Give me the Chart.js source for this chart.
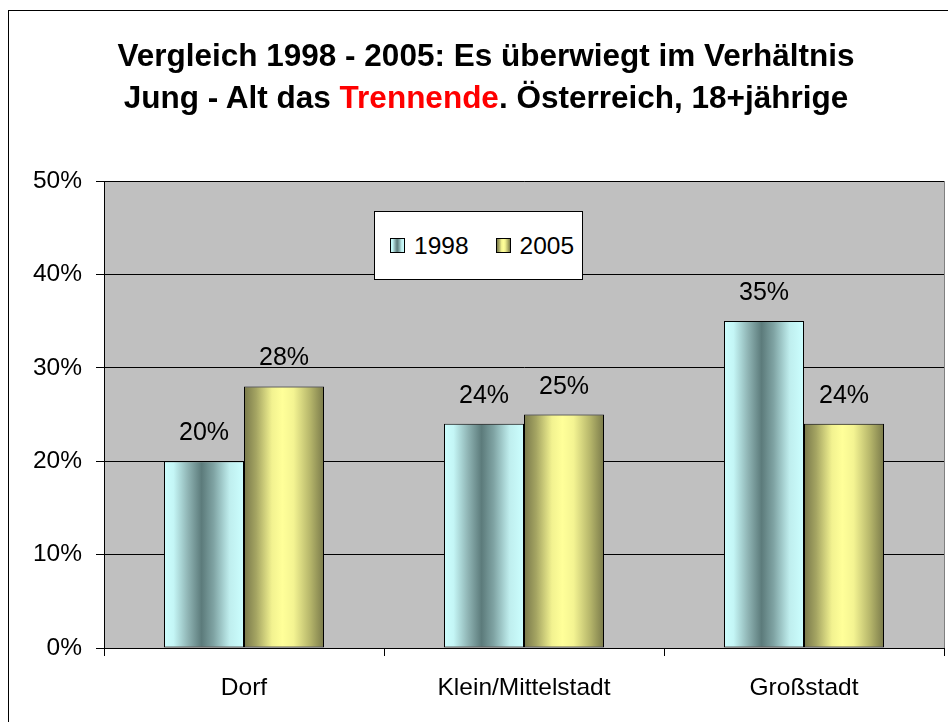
<!DOCTYPE html>
<html>
<head>
<meta charset="utf-8">
<script src="https://cdn.jsdelivr.net/npm/chart.js@4/dist/chart.umd.min.js"></script>
<style>
  html, body { margin: 0; padding: 0; background: #fff; }
  #wrap { position: relative; width: 948px; height: 722px; overflow: hidden; font-family: "Liberation Sans", Arial, sans-serif; }
  #chart { position: absolute; left: 0; top: 0; }
  #title { position: absolute; left: 0; top: 34px; width: 972px; text-align: center; font-weight: bold; font-size: 31.5px; line-height: 42px; color: #000; }
  #title .red { color: #ff0000; }
  #legend { position: absolute; left: 374px; top: 211px; width: 207px; height: 67px; background: #fff; border: 1px solid #000; display: flex; align-items: center; font-size: 24.5px; color: #000; }
  .item { display: flex; align-items: center; }
  .sw { width: 13px; height: 13px; border: 1px solid #000; margin-right: 9px; }
</style>
</head>
<body>
<div id="wrap">
  <canvas id="chart" width="948" height="722"></canvas>
  <div id="title"></div>
  <div id="legend"></div>
</div>
<script>
// ---- data ----
const categories = ['Dorf', 'Klein/Mittelstadt', 'Großstadt'];
const seriesNames = ['1998', '2005'];
const values1998 = [20, 24, 35];
const values2005 = [28, 25, 24];
const yTickValues = [0, 10, 20, 30, 40, 50];
const titleLine1 = 'Vergleich 1998 - 2005: Es überwiegt im Verhältnis';
const titleLine2Parts = ['Jung - Alt das ', 'Trennende', '. Österreich, 18+jährige'];

// ---- styles ----
const FONT = '"Liberation Sans", Arial, sans-serif';
const CAT_PCT = 160 / 280;
const grad1998 = [[0, '#ccffff'], [0.12, '#c4f6f6'], [0.30, '#8fb4b4'], [0.47, '#5c7b7b'], [0.62, '#7fa3a3'], [0.82, '#bfeeee'], [1, '#ccffff']];
const grad2005 = [[0, '#78784a'], [0.15, '#a4a462'], [0.35, '#f2f290'], [0.48, '#ffff99'], [0.62, '#f4f492'], [0.82, '#b8b86c'], [1, '#7a7a4a']];

// title & legend as real text
const titleEl = document.getElementById('title');
titleEl.innerHTML = '';
const l1 = document.createElement('div'); l1.textContent = titleLine1; titleEl.appendChild(l1);
const l2 = document.createElement('div');
titleLine2Parts.forEach((t, i) => { const s = document.createElement('span'); s.textContent = t; if (i === 1) s.className = 'red'; l2.appendChild(s); });
titleEl.appendChild(l2);

function cssGrad(stops) { return 'linear-gradient(to right, ' + stops.map(s => s[1] + ' ' + (s[0] * 100) + '%').join(', ') + ')'; }
const legendEl = document.getElementById('legend');
[[seriesNames[0], grad1998, 15], [seriesNames[1], grad2005, 27]].forEach(([name, g, ml]) => {
  const it = document.createElement('div'); it.className = 'item'; it.style.marginLeft = ml + 'px';
  const sw = document.createElement('div'); sw.className = 'sw'; sw.style.background = cssGrad(g);
  const tx = document.createElement('span'); tx.textContent = name;
  it.appendChild(sw); it.appendChild(tx); legendEl.appendChild(it);
});

function barGradient(c, stops) {
  const chart = c.chart;
  if (!chart.chartArea || c.dataIndex === undefined || !chart.scales.x) return stops[Math.floor(stops.length / 2)][1];
  const xs = chart.scales.x;
  const catW = xs.width / categories.length;
  const barW = catW * CAT_PCT / 2;
  const center = xs.getPixelForValue(c.dataIndex);
  const x0 = center + (c.datasetIndex === 0 ? -barW : 0);
  const g = chart.ctx.createLinearGradient(x0, 0, x0 + barW, 0);
  stops.forEach(s => g.addColorStop(s[0], s[1]));
  return g;
}

const bgPlugin = {
  id: 'bg',
  beforeDraw(chart) {
    const { ctx, chartArea: a } = chart;
    ctx.save();
    ctx.fillStyle = '#ffffff';
    ctx.fillRect(0, 0, chart.width, chart.height);
    ctx.strokeStyle = '#000';
    ctx.lineWidth = 1;
    ctx.strokeRect(8.5, 10.5, 1200, 1200);
    ctx.fillStyle = '#c0c0c0';
    ctx.fillRect(a.left, a.top, a.right - a.left, a.bottom - a.top);
    ctx.strokeStyle = '#808080';
    ctx.strokeRect(a.left + 0.5, a.top + 0.5, a.right - a.left, a.bottom - a.top);
    ctx.restore();
  }
};

const labelPlugin = {
  id: 'vlabels',
  afterDatasetsDraw(chart) {
    const ctx = chart.ctx;
    ctx.save();
    ctx.font = '25px ' + FONT;
    ctx.fillStyle = '#000';
    ctx.textAlign = 'center';
    ctx.textBaseline = 'alphabetic';
    chart.data.datasets.forEach((ds, di) => {
      chart.getDatasetMeta(di).data.forEach((el, i) => {
        ctx.fillText(ds.data[i] + '%', el.x, el.y - 21);
      });
    });
    ctx.restore();
  }
};

new Chart(document.getElementById('chart'), {
  type: 'bar',
  data: {
    labels: categories,
    datasets: [
      { label: seriesNames[0], data: values1998, backgroundColor: c => barGradient(c, grad1998), borderColor: '#000', borderWidth: 1, borderSkipped: false },
      { label: seriesNames[1], data: values2005, backgroundColor: c => barGradient(c, grad2005), borderColor: '#000', borderWidth: 1, borderSkipped: false }
    ]
  },
  options: {
    responsive: false,
    animation: false,
    events: [],
    layout: { padding: { top: 181, right: 4, left: 0, bottom: 0 } },
    datasets: { bar: { barPercentage: 1, categoryPercentage: CAT_PCT } },
    plugins: { legend: { display: false }, title: { display: false }, tooltip: { enabled: false } },
    scales: {
      x: {
        grid: { display: true, drawOnChartArea: false, drawTicks: true, tickLength: 8, color: '#000', offset: true },
        border: { display: true, color: '#000' },
        ticks: { color: '#000', font: { family: FONT, size: 24.5 }, padding: 18, maxRotation: 0 },
        afterFit(s) { s.height = 74; }
      },
      y: {
        min: 0, max: 50,
        afterBuildTicks(s) { s.ticks = yTickValues.map(v => ({ value: v })); },
        grid: { color: '#000', tickLength: 8, drawTicks: true },
        border: { display: true, color: '#000' },
        ticks: { color: '#000', font: { family: FONT, size: 24.5 }, padding: 14, callback: v => v + '%' },
        afterFit(s) { s.width = 104; }
      }
    }
  },
  plugins: [bgPlugin, labelPlugin]
});
</script>
</body>
</html>
